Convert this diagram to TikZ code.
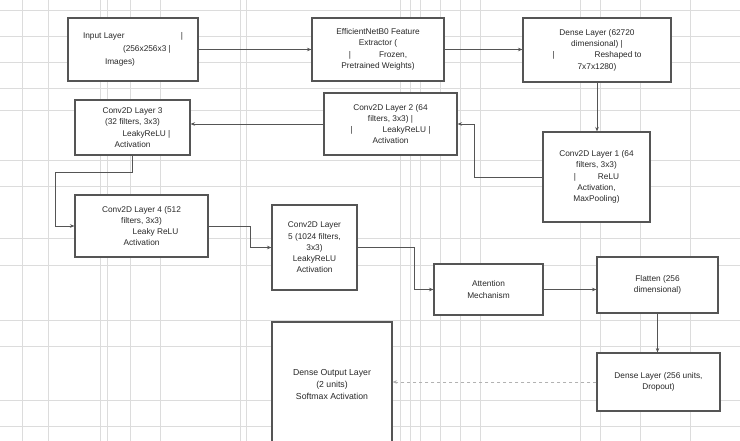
\documentclass[tikz,border=0pt]{standalone}
\usepackage{fontspec}
\setmainfont{Liberation Sans}
\usetikzlibrary{arrows.meta}
\definecolor{gridc}{RGB}{220,220,220}
\definecolor{boxc}{RGB}{85,85,85}
\definecolor{txtc}{RGB}{40,40,40}
\tikzset{
  blk/.style={draw=boxc, line width=1.1pt, fill=white, inner sep=2pt, text=txtc,
    font=\fontsize{8.3}{11.3}\selectfont, align=center},
  conn/.style={draw=boxc, line width=0.9pt, -{Stealth[length=4.5pt,width=3.5pt]}},
  weak/.style={draw=gray!60, line width=0.6pt, dashed, -{Stealth[length=4.5pt,width=3.5pt]}},
  gline/.style={draw=gridc, line width=0.6pt}
}
\begin{document}
\begin{tikzpicture}[x=1pt,y=-1pt]
\useasboundingbox (0,0) rectangle (740,441);
\fill[white] (0,0) rectangle (740,441);
% grid
\foreach \gx in {22,48,100,107,130,160,240,246,400,410,420,440,460,480,580,600,640,690}
  \draw[gline] (\gx,0) -- (\gx,441);
\foreach \gy in {10,36,62,88,110,160,186,238,265,320,346,400,426}
  \draw[gline] (0,\gy) -- (740,\gy);
% boxes
\node[blk, minimum width=130pt, minimum height=63pt, font=\fontsize{8.3}{13}\selectfont] (inp) at (133,49.5)
  {\parbox{100pt}{Input Layer\hfill|\\ \hspace*{40pt}(256x256x3 |\\ \hspace*{22pt}Images)}};
\node[blk, minimum width=132pt, minimum height=63pt] (eff) at (378,49.5)
  {EfficientNetB0 Feature\\Extractor (\\|\hspace{28pt}Frozen,\\Pretrained Weights)};
\node[blk, minimum width=148pt, minimum height=64pt] (den) at (597,50)
  {Dense Layer (62720\\dimensional) |\\|\hspace{40pt}Reshaped to\\7x7x1280)};
\node[blk, minimum width=107pt, minimum height=90pt] (c1) at (596.5,177)
  {Conv2D Layer 1 (64\\filters, 3x3)\\|\hspace{22pt}ReLU\\Activation,\\MaxPooling)};
\node[blk, minimum width=133pt, minimum height=62pt] (c2) at (390.5,124)
  {Conv2D Layer 2 (64\\filters, 3x3) |\\|\hspace{30pt}LeakyReLU |\\Activation};
\node[blk, minimum width=115pt, minimum height=55pt] (c3) at (132.5,127.5)
  {Conv2D Layer 3\\(32 filters, 3x3)\\\hspace*{28pt}LeakyReLU |\\Activation};
\node[blk, minimum width=133pt, minimum height=62pt] (c4) at (141.5,226)
  {Conv2D Layer 4 (512\\filters, 3x3)\\\hspace*{28pt}Leaky ReLU\\Activation};
\node[blk, minimum width=85pt, minimum height=85pt] (c5) at (314.5,247.5)
  {Conv2D Layer\\5 (1024 filters,\\3x3)\\LeakyReLU\\Activation};
\node[blk, minimum width=109pt, minimum height=51pt] (att) at (488.5,289.5)
  {Attention\\Mechanism};
\node[blk, minimum width=121pt, minimum height=56pt] (fla) at (657.5,285)
  {Flatten (256\\dimensional)};
\node[blk, minimum width=123pt, minimum height=58pt] (d256) at (658.5,382)
  {Dense Layer (256 units,\\Dropout)};
\node[blk, minimum width=120pt, minimum height=126pt, font=\fontsize{8.7}{12}\selectfont] (out) at (332,385)
  {Dense Output Layer\\(2 units)\\Softmax Activation};
% connectors
\coordinate (k1) at (55,172);
\draw[conn] (inp.east) -- (inp.east -| eff.west);
\draw[conn] (eff.east) -- (eff.east -| den.west);
\draw[conn] (den.south) -- (den.south |- c1.north);
\draw[conn] (c1.west) -- ++(-68,0) |- (c2.east);
\draw[conn] (c2.west) -- (c2.west -| c3.east);
\draw[conn] (c3.south) |- (k1) |- (c4.west);
\draw[conn] (c4.east) -- ++(42,0) |- (c5.west);
\draw[conn] (c5.east) -- ++(57,0) |- (att.west);
\draw[conn] (att.east) -- (att.east -| fla.west);
\draw[conn] (fla.south) -- (fla.south |- d256.north);
\draw[weak] (d256.west) -- (d256.west -| out.east);
\end{tikzpicture}
\end{document}
